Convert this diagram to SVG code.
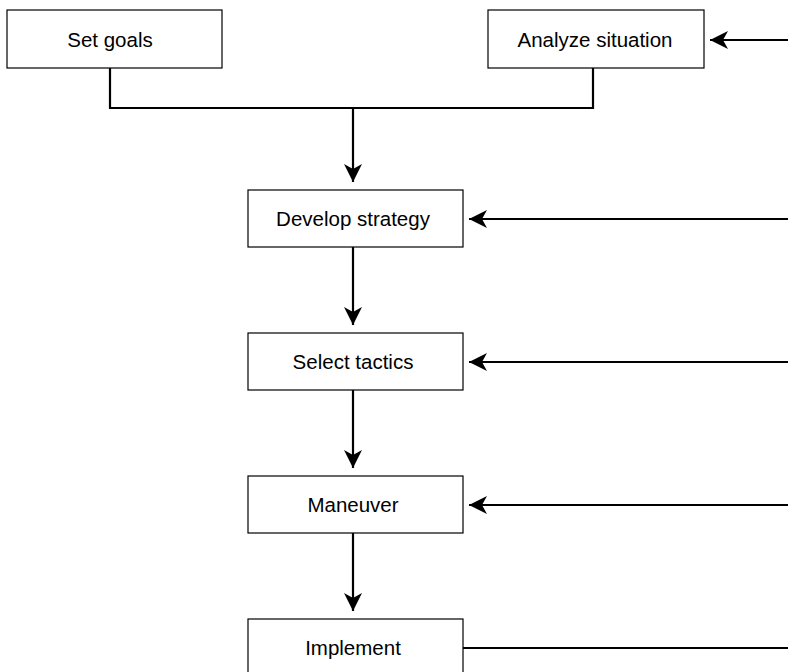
<svg xmlns="http://www.w3.org/2000/svg" width="788" height="672" viewBox="0 0 788 672">
<style>
.box{fill:#fff;stroke:#000;stroke-width:1.2}
.lbl{font-family:"Liberation Sans",Arial,sans-serif;font-size:20.5px;fill:#000;text-anchor:middle;dominant-baseline:central}
.edge{fill:none;stroke:#000;stroke-width:2.2}
</style>
<defs>
<marker id="ah" markerUnits="userSpaceOnUse" markerWidth="24" markerHeight="24" viewBox="0 0 24 24" refX="20" refY="12" orient="auto">
<path d="M2,3 L20,12 L2,21 L7,12 Z" fill="#000"/>
</marker>
</defs>
<rect width="788" height="672" fill="#fff"/>
<g id="connectors">
<path class="edge" d="M110,68 V108 H593 V68"/>
<path class="edge" d="M353,108 V182" marker-end="url(#ah)"/>
<path class="edge" d="M788,40 H710" marker-end="url(#ah)"/>
<path class="edge" d="M353,247 V325" marker-end="url(#ah)"/>
<path class="edge" d="M788,219 H469" marker-end="url(#ah)"/>
<path class="edge" d="M353,390 V468" marker-end="url(#ah)"/>
<path class="edge" d="M788,362 H469" marker-end="url(#ah)"/>
<path class="edge" d="M353,533 V611" marker-end="url(#ah)"/>
<path class="edge" d="M788,505 H469" marker-end="url(#ah)"/>
<path class="edge" d="M463,648 H788"/>
</g>
<g id="set-goals"><rect class="box" x="7" y="10" width="215" height="58"/><text class="lbl" x="110" y="39">Set goals</text></g>
<g id="analyze-situation"><rect class="box" x="488" y="10" width="216" height="58"/><text class="lbl" x="595" y="39">Analyze situation</text></g>
<g id="develop-strategy"><rect class="box" x="248" y="190" width="215" height="57"/><text class="lbl" x="353" y="218.5">Develop strategy</text></g>
<g id="select-tactics"><rect class="box" x="248" y="333" width="215" height="57"/><text class="lbl" x="353" y="361.5">Select tactics</text></g>
<g id="maneuver"><rect class="box" x="248" y="476" width="215" height="57"/><text class="lbl" x="353" y="504.5">Maneuver</text></g>
<g id="implement"><rect class="box" x="248" y="619" width="215" height="57"/><text class="lbl" x="353" y="647.5">Implement</text></g>
</svg>
